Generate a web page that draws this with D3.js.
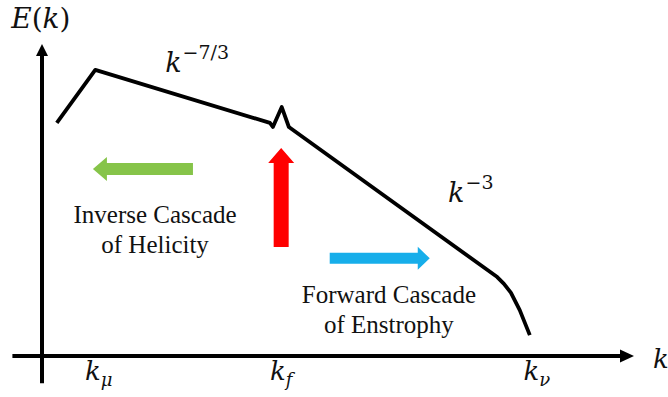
<!DOCTYPE html>
<html>
<head>
<meta charset="utf-8">
<script src="https://cdn.jsdelivr.net/npm/d3@7"></script>
<style>
  body { margin: 0; background: #fff; }
  text { fill: #111; }
  .math { font-family: "DejaVu Serif", "Liberation Serif", serif; font-style: italic; }
  .caption { font-family: "Liberation Serif", "Times New Roman", Times, serif; font-size: 25px; }
</style>
</head>
<body>
<svg id="chart" width="668" height="397"></svg>
<script>
// Schematic energy spectrum E(k); both axes in abstract units (0–10)
const spectrumK = [0.25, 0.90, 3.85, 3.90, 4.05, 4.17, 7.69, 7.80, 7.92, 8.07, 8.24];
const spectrumE = [7.47, 9.17, 7.47, 7.34, 7.98, 7.34, 2.53, 2.32, 2.03, 1.47, 0.67];

// Characteristic wavenumbers on the k axis
const tickSubscripts = ["μ", "f", "ν"];
const tickK = [0.96, 4.04, 8.36];

// Power-law slope labels
const slopeExponents = ["−7/3", "−3"];
const slopeK = [2.08, 6.86];
const slopeE = [9.10, 4.94];

// Cascade / forcing arrows
const arrowNames = ["inverse", "forcing", "forward"];
const arrowColors = ["#86c449", "#ff0000", "#17aeea"];
const arrowFromK = [2.55, 4.04, 4.86];
const arrowToK = [0.86, 4.04, 6.55];
const arrowFromE = [5.99, 3.49, 3.13];
const arrowToE = [5.99, 6.67, 3.13];

// Two-line captions
const captionLines = [["Inverse Cascade", "of Helicity"], ["Forward Cascade", "of Enstrophy"]];
const captionK = [1.91, 5.86];
const captionE = [4.26, 1.70];
const captionLineStep = 0.97;

const svg = d3.select("#chart");

const x = d3.scaleLinear().domain([0, 10]).range([42, 634]);
const y = d3.scaleLinear().domain([0, 10]).range([356, 44]);

// Axes with arrowheads
const axisG = svg.append("g");
axisG.append("line")
  .attr("x1", x(-0.5)).attr("x2", x(9.78))
  .attr("y1", y(0)).attr("y2", y(0))
  .attr("stroke", "#000").attr("stroke-width", 4);
axisG.append("path")
  .attr("d", `M${x(10)},${y(0)} L${x(10) - 14},${y(0) - 6.5} L${x(10) - 14},${y(0) + 6.5} Z`)
  .attr("fill", "#000");
axisG.append("line")
  .attr("x1", x(0)).attr("x2", x(0))
  .attr("y1", y(-0.87)).attr("y2", y(9.65))
  .attr("stroke", "#000").attr("stroke-width", 4);
axisG.append("path")
  .attr("d", `M${x(0)},${y(10)} L${x(0) - 6},${y(10) + 12} L${x(0) + 6},${y(10) + 12} Z`)
  .attr("fill", "#000");

// Axis titles
const eLabel = svg.append("text").attr("class", "math")
  .attr("x", x(-0.52)).attr("y", y(10.52)).attr("font-size", 28);
eLabel.append("tspan").text("E");
eLabel.append("tspan").attr("font-style", "normal").text("(");
eLabel.append("tspan").text("k");
eLabel.append("tspan").attr("font-style", "normal").text(")");

svg.append("text").attr("class", "math")
  .attr("x", x(10.32)).attr("y", y(-0.38)).attr("font-size", 26).text("k");

// Tick labels k_μ, k_f, k_ν
tickK.forEach((k, i) => {
  const t = svg.append("text").attr("class", "math")
    .attr("x", x(k)).attr("y", y(-0.78))
    .attr("text-anchor", "middle").attr("font-size", 26);
  t.append("tspan").text("k");
  t.append("tspan").attr("font-size", 18).attr("dy", 6).text(tickSubscripts[i]);
});

// Spectrum curve
const points = spectrumK.map((k, i) => [k, spectrumE[i]]);
svg.append("path")
  .datum(points)
  .attr("d", d3.line().x(d => x(d[0])).y(d => y(d[1])).curve(d3.curveLinear))
  .attr("fill", "none").attr("stroke", "#000")
  .attr("stroke-width", 3.8)
  .attr("stroke-linejoin", "round").attr("stroke-linecap", "butt");

// Slope labels k^{-7/3}, k^{-3}
slopeK.forEach((k, i) => {
  const t = svg.append("text").attr("class", "math")
    .attr("x", x(k)).attr("y", y(slopeE[i])).attr("font-size", 27);
  t.append("tspan").text("k");
  t.append("tspan").attr("font-style", "normal").attr("font-size", 19)
    .attr("dy", -13).attr("dx", 1).text(slopeExponents[i]);
});

// Block arrows
const shaftHalf = [6, 7.5, 5.5];
const headHalf = [12, 13, 11.5];
const headLen = [14, 15, 12];
arrowNames.forEach((name, i) => {
  const x0 = x(arrowFromK[i]), y0 = y(arrowFromE[i]);
  const x1 = x(arrowToK[i]), y1 = y(arrowToE[i]);
  const len = Math.hypot(x1 - x0, y1 - y0);
  const ux = (x1 - x0) / len, uy = (y1 - y0) / len;
  const nx = -uy, ny = ux;
  const bx = x1 - ux * headLen[i], by = y1 - uy * headLen[i];
  const s = shaftHalf[i], h = headHalf[i];
  const pts = [
    [x0 + nx * s, y0 + ny * s],
    [bx + nx * s, by + ny * s],
    [bx + nx * h, by + ny * h],
    [x1, y1],
    [bx - nx * h, by - ny * h],
    [bx - nx * s, by - ny * s],
    [x0 - nx * s, y0 - ny * s]
  ];
  svg.append("polygon")
    .attr("class", "arrow-" + name)
    .attr("points", pts.map(p => p.join(",")).join(" "))
    .attr("fill", arrowColors[i]);
});

// Captions
captionLines.forEach((lines, i) => {
  lines.forEach((line, j) => {
    svg.append("text").attr("class", "caption")
      .attr("font-family", "'Liberation Serif', 'Times New Roman', Times, serif")
      .attr("x", x(captionK[i]))
      .attr("y", y(captionE[i] - j * captionLineStep))
      .attr("text-anchor", "middle")
      .text(line);
  });
});
</script>
</body>
</html>
